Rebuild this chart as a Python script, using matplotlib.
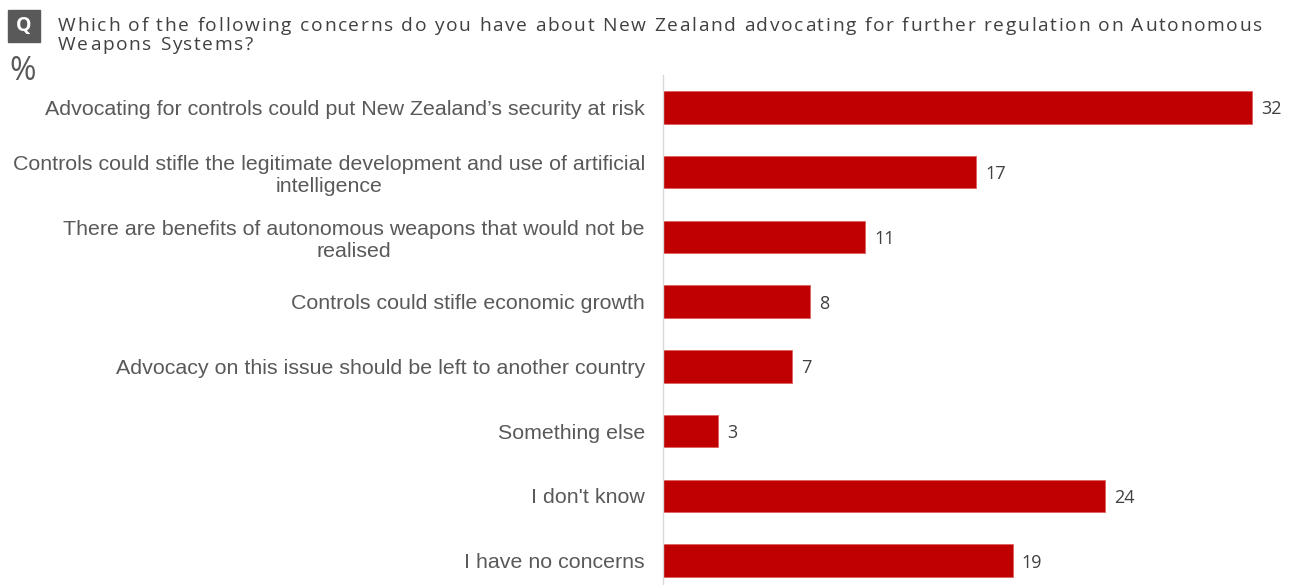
import matplotlib
matplotlib.use('Agg')
import matplotlib.pyplot as plt
from matplotlib.patches import Rectangle
from matplotlib.font_manager import FontProperties, findfont, get_font

categories = [
    "Advocating for controls could put New Zealand\u2019s security at risk",
    "Controls could stifle the legitimate development and use of artificial\nintelligence",
    "There are benefits of autonomous weapons that would not be\nrealised",
    "Controls could stifle economic growth",
    "Advocacy on this issue should be left to another country",
    "Something else",
    "I don't know",
    "I have no concerns",
]
values = [32, 17, 11, 8, 7, 3, 24, 19]

title_lines = [
    "Which of the following concerns do you have about New Zealand advocating for further regulation on Autonomous",
    "Weapons Systems?",
]

bar_color = '#C00000'
label_color = '#595959'
W, H = 1296, 585

fig = plt.figure(figsize=(12.96, 5.85), dpi=100)
ax = fig.add_axes([663 / W, -8 / H, 633 / W, 518 / H])

y = list(range(len(categories)))
ax.barh(y, values, height=0.5, color=bar_color, edgecolor='#E06060', linewidth=0.6)
ax.set_ylim(len(categories) - 0.5, -0.5)
ax.set_xlim(0, 34.4)

for yi, v in zip(y, values):
    ax.text(v + 0.5, yi + 0.03, str(v), va='center', ha='left', fontsize=13,
            color='#404040', family='Open Sans')

ax.set_yticks(y)
ax.set_yticklabels(categories, fontsize=15.4, color=label_color,
                   family='Liberation Sans', multialignment='center',
                   linespacing=1.2)
ax.tick_params(axis='y', length=0, pad=13)
ax.set_xticks([])
for s in ['top', 'right', 'bottom']:
    ax.spines[s].set_visible(False)
ax.spines['left'].set_color('#D9D9D9')
ax.spines['left'].set_linewidth(1)

# Q badge and % marker
fig.patches.append(Rectangle((8 / W, 1 - 42 / H), 32 / W, 32 / H,
                             transform=fig.transFigure, color='#595959'))
fig.text(24 / W, 1 - 26 / H, 'Q', ha='center', va='center', color='white',
         fontsize=14, fontweight='bold', family='Open Sans')
fig.text(23 / W, 1 - 71 / H, '%', ha='center', va='center', color='#595959',
         fontsize=23, family='Open Sans')

# title with letter spacing, placed char by char using glyph advances
prop = FontProperties(family='Open Sans', size=13.8)
ft = get_font(findfont(prop))
ft.set_size(13.8, 100)


def char_adv(ch):
    g = ft.load_char(ord(ch))
    return g.linearHoriAdvance / 65536


line1 = title_lines[0]
natural = sum(char_adv(c) for c in line1)
tracking = (1204 - natural) / (len(line1) - 1)

for line, yc in zip(title_lines, [24, 43]):
    x = 58
    for ch in line:
        fig.text(x / W, 1 - yc / H, ch, ha='left', va='center_baseline',
                 color='#404040', fontproperties=prop)
        x += char_adv(ch) + tracking

plt.savefig('out.png', dpi=100)
